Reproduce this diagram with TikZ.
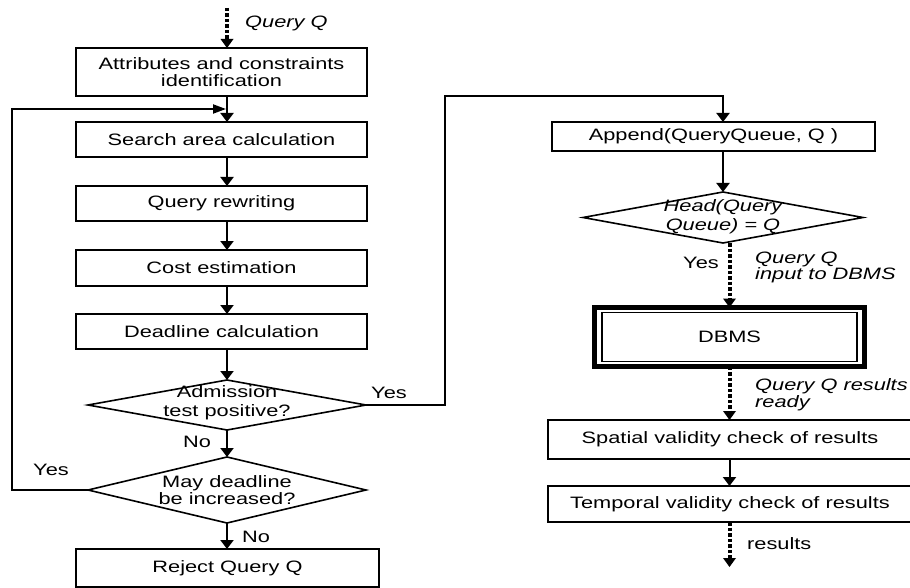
\documentclass[tikz,border=0pt]{standalone}
\usepackage{fontspec}
\setmainfont[FakeStretch=1.32]{Liberation Sans}
\usetikzlibrary{arrows.meta,shapes.geometric}
\begin{document}
\begin{tikzpicture}[x=1pt,y=-1pt,
  txt/.style={font=\fontsize{16.5}{17.5}\selectfont,inner sep=0pt,align=center},
  box/.style={txt,draw,line width=1.6pt,rectangle,outer sep=0pt},
  dia/.style={draw,line width=1.6pt,diamond,inner sep=0pt,outer sep=0pt},
  lbl/.style={txt,align=left},
  arr/.style={line width=2pt,-{Triangle[width=13pt,length=9pt]}},
  harr/.style={line width=2pt,-{Triangle[width=9pt,length=13pt]}},
  ln/.style={line width=2pt},
  dot/.style={line width=4pt,dash pattern=on 3.5pt off 2pt,-{Triangle[width=13pt,length=9pt,line width=0pt]}}
]
\useasboundingbox (0,0) rectangle (910,588);
\coordinate (cx) at (227,0);
\coordinate (rx) at (723,0);
\coordinate (dx) at (729.5,0);

% left column
\node[box,minimum width=291,minimum height=48] (b1) at (221.5,72) {Attributes and constraints\\identification};
\node[box,minimum width=291,minimum height=35] (b2) at (221.5,139.5) {Search area calculation};
\node[box,minimum width=291,minimum height=35] (b3) at (221.5,203.5) {Query rewriting};
\node[box,minimum width=291,minimum height=36] (b4) at (221.5,268) {Cost estimation};
\node[box,minimum width=291,minimum height=35] (b5) at (221.5,331.5) {Deadline calculation};
\node[dia,minimum width=278,minimum height=50] (d1) at (227,405) {};
\node[txt,font=\fontsize{16.5}{19}\selectfont] (d1t) at (227,403) {Admission\\test positive?};
\node[dia,minimum width=278,minimum height=66] (d2) at (227,490) {};
\node[txt] (d2t) at (227,490) {May deadline\\be increased?};
\node[box,minimum width=303,minimum height=38] (rej) at (227.5,568) {Reject Query Q};

% right column
\node[box,minimum width=323,minimum height=29] (app) at (713.5,136.5) {Append(QueryQueue, Q )};
\node[dia,minimum width=280,minimum height=51] (d3) at (723,217.5) {};
\node[txt,font=\fontsize{16.5}{19}\selectfont\itshape] (d3t) at (723,217) {Head(Query\\Queue) = Q};
\node[draw,line width=5pt,minimum width=270,minimum height=59,inner sep=0pt,outer sep=0pt] (dbms) at (729.5,337) {};
\node[box,line width=1.2pt,minimum width=255,minimum height=49] (dbin) at (729.5,337) {DBMS};
\node[box,minimum width=364,minimum height=39] (sp) at (730,439.5) {Spatial validity check of results};
\node[box,minimum width=364,minimum height=36] (tp) at (730,504) {Temporal validity check of results};

% labels
\node[lbl,font=\fontsize{16.5}{17.5}\selectfont\itshape,anchor=west] (lq) at (245,23) {Query Q};
\node[lbl,anchor=center] (ly1) at (389,393) {Yes};
\node[lbl,anchor=center] (ln1) at (197,442) {No};
\node[lbl,anchor=center] (ly2) at (51,470) {Yes};
\node[lbl,anchor=center] (ln2) at (256,537) {No};
\node[lbl,anchor=center] (ly3) at (701,263) {Yes};
\node[lbl,font=\fontsize{16.5}{16}\selectfont\itshape,anchor=west] (lin) at (755,267.5) {Query Q\\input to DBMS};
\node[lbl,font=\fontsize{16.5}{17}\selectfont\itshape,anchor=west] (lres) at (755,394.5) {Query Q results\\ready};
\node[lbl,anchor=west] (lout) at (747,544) {results};

% connectors left
\coordinate (qin) at (227,8);
\draw[dot] (qin) -- (b1.north -| cx);
\draw[arr] (b1.south -| cx) -- (b2.north -| cx);
\draw[arr] (b2.south -| cx) -- (b3.north -| cx);
\draw[arr] (b3.south -| cx) -- (b4.north -| cx);
\draw[arr] (b4.south -| cx) -- (b5.north -| cx);
\draw[arr] (b5.south -| cx) -- (d1.north);
\draw[arr] (d1.south) -- (d2.north);
\draw[arr] (d2.south) -- (rej.north -| cx);
\coordinate (loopin) at (226,109);
\draw[harr] (d2.west) -| (12,109) -- (loopin);
\draw[ln] (d1.east) -| (445,96) -| (app.north -| rx);
\draw[arr] (app.north -| rx) ++(0,-14) -- (app.north -| rx);

% connectors right
\draw[arr] (app.south -| rx) -- (d3.north);
\draw[dot] (d3.south -| dx) -- (dbms.north -| dx);
\draw[dot] (dbms.south -| dx) -- (sp.north -| dx);
\draw[arr] (sp.south -| dx) -- (tp.north -| dx);
\coordinate (out) at (729.5,567);
\draw[dot] (tp.south -| dx) -- (out);
\end{tikzpicture}
\end{document}
